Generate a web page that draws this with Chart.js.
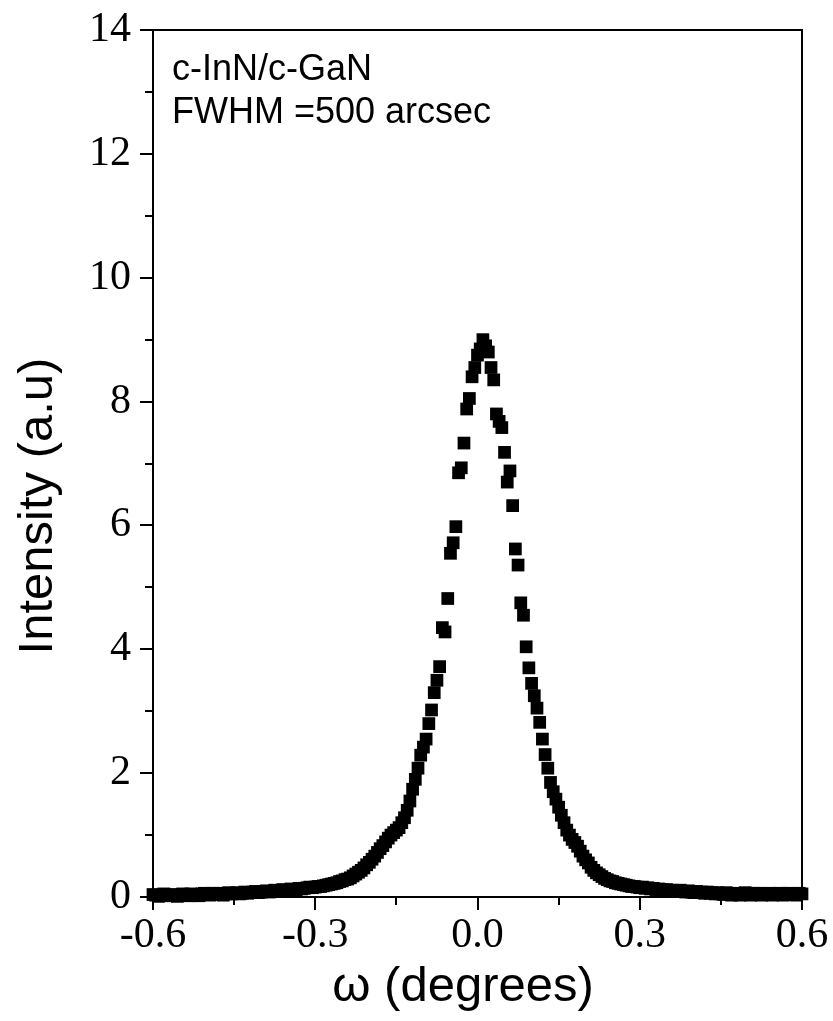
<!DOCTYPE html>
<html>
<head>
<meta charset="utf-8">
<script src="https://cdn.jsdelivr.net/npm/chart.js@4.4.0/dist/chart.umd.min.js"></script>
<style>
  body { margin: 0; background: #fff; }
  #wrap { width: 833px; height: 1021px; position: relative; }
</style>
</head>
<body>
<div id="wrap"><canvas id="rocking_curve"></canvas></div>
<script>

///////////   DATA  /////////////////

const omega = [
  -0.600,-0.595,-0.590,-0.585,-0.580,-0.575,-0.570,-0.565,-0.560,-0.555,
  -0.550,-0.545,-0.540,-0.535,-0.530,-0.525,-0.520,-0.515,-0.510,-0.505,
  -0.500,-0.495,-0.490,-0.485,-0.480,-0.475,-0.470,-0.465,-0.460,-0.455,
  -0.450,-0.445,-0.440,-0.435,-0.430,-0.425,-0.420,-0.415,-0.410,-0.405,
  -0.400,-0.395,-0.390,-0.385,-0.380,-0.375,-0.370,-0.365,-0.360,-0.355,
  -0.350,-0.345,-0.340,-0.335,-0.330,-0.325,-0.320,-0.315,-0.310,-0.305,
  -0.300,-0.295,-0.290,-0.285,-0.280,-0.275,-0.270,-0.265,-0.260,-0.255,
  -0.250,-0.245,-0.240,-0.235,-0.230,-0.225,-0.220,-0.215,-0.210,-0.205,
  -0.200,-0.195,-0.190,-0.185,-0.180,-0.175,-0.170,-0.165,-0.160,-0.155,
  -0.150,-0.145,-0.140,-0.135,-0.130,-0.125,-0.120,-0.115,-0.110,-0.105,
  -0.100,-0.095,-0.090,-0.085,-0.080,-0.075,-0.070,-0.065,-0.060,-0.055,
  -0.050,-0.045,-0.040,-0.035,-0.030,-0.025,-0.020,-0.015,-0.010,-0.005,
   0.000, 0.005, 0.010, 0.015, 0.020, 0.025, 0.030, 0.035, 0.040, 0.045,
   0.050, 0.055, 0.060, 0.065, 0.070, 0.075, 0.080, 0.085, 0.090, 0.095,
   0.100, 0.105, 0.110, 0.115, 0.120, 0.125, 0.130, 0.135, 0.140, 0.145,
   0.150, 0.155, 0.160, 0.165, 0.170, 0.175, 0.180, 0.185, 0.190, 0.195,
   0.200, 0.205, 0.210, 0.215, 0.220, 0.225, 0.230, 0.235, 0.240, 0.245,
   0.250, 0.255, 0.260, 0.265, 0.270, 0.275, 0.280, 0.285, 0.290, 0.295,
   0.300, 0.305, 0.310, 0.315, 0.320, 0.325, 0.330, 0.335, 0.340, 0.345,
   0.350, 0.355, 0.360, 0.365, 0.370, 0.375, 0.380, 0.385, 0.390, 0.395,
   0.400, 0.405, 0.410, 0.415, 0.420, 0.425, 0.430, 0.435, 0.440, 0.445,
   0.450, 0.455, 0.460, 0.465, 0.470, 0.475, 0.480, 0.485, 0.490, 0.495,
   0.500, 0.505, 0.510, 0.515, 0.520, 0.525, 0.530, 0.535, 0.540, 0.545,
   0.550, 0.555, 0.560, 0.565, 0.570, 0.575, 0.580, 0.585, 0.590, 0.595,
   0.600
];

const intensity = [
  0.04,0.03,0.01,0.03,0.05,0.03,0.02,0.04,0.03,0.01,
  0.03,0.05,0.03,0.02,0.05,0.03,0.04,0.02,0.05,0.06,
  0.04,0.03,0.06,0.04,0.05,0.06,0.03,0.05,0.07,0.05,
  0.06,0.07,0.05,0.06,0.08,0.06,0.07,0.08,0.09,0.07,
  0.08,0.09,0.10,0.08,0.09,0.11,0.09,0.10,0.12,0.10,
  0.11,0.13,0.11,0.12,0.14,0.13,0.14,0.15,0.16,0.15,
  0.16,0.17,0.17,0.18,0.19,0.20,0.21,0.22,0.23,0.25,
  0.26,0.28,0.29,0.31,0.34,0.37,0.40,0.43,0.47,0.52,
  0.56,0.61,0.66,0.72,0.78,0.83,0.89,0.95,1.00,1.04,
  1.08,1.12,1.20,1.28,1.40,1.55,1.74,1.90,2.08,2.29,
  2.42,2.55,2.80,3.02,3.30,3.50,3.72,4.35,4.28,4.82,
  5.55,5.72,5.98,6.85,6.93,7.33,7.88,8.05,8.40,8.55,
  8.75,8.85,9.00,8.90,8.80,8.55,8.35,7.80,7.68,7.58,
  7.18,6.70,6.88,6.32,5.62,5.36,4.75,4.55,4.04,3.70,
  3.45,3.25,3.05,2.82,2.55,2.30,2.08,1.85,1.70,1.58,
  1.45,1.32,1.20,1.08,1.00,0.93,0.88,0.82,0.74,0.66,
  0.60,0.55,0.48,0.43,0.39,0.36,0.33,0.30,0.28,0.26,
  0.25,0.23,0.22,0.21,0.20,0.19,0.18,0.17,0.17,0.16,
  0.15,0.16,0.14,0.15,0.13,0.14,0.12,0.13,0.12,0.11,
  0.12,0.10,0.11,0.09,0.10,0.11,0.09,0.08,0.10,0.08,
  0.07,0.09,0.07,0.08,0.06,0.08,0.06,0.07,0.05,0.07,
  0.05,0.04,0.07,0.05,0.03,0.06,0.05,0.03,0.05,0.07,
  0.05,0.03,0.06,0.04,0.06,0.03,0.05,0.04,0.06,0.03,
  0.05,0.04,0.06,0.03,0.04,0.06,0.04,0.05,0.03,0.06,
  0.05
];

const x_ticks = [-0.6, -0.3, 0.0, 0.3, 0.6];
const x_minor = [-0.45, -0.15, 0.15, 0.45];
const y_ticks = [0, 2, 4, 6, 8, 10, 12, 14];
const y_minor = [1, 3, 5, 7, 9, 11, 13];
const note_lines = ["c-InN/c-GaN", "FWHM =500 arcsec"];
const x_title = "ω (degrees)";
const y_title = "Intensity (a.u)";

const sans = "'Liberation Sans', Arial, sans-serif";
const serif = "'Liberation Serif', 'Times New Roman', serif";


///////////   PLUGINS  /////////////////

// box round the plot, short minor ticks, note text and axis titles
const frame_plugin = {
  id: "frame",
  afterDraw(chart) {
    const ctx = chart.ctx;
    const a = chart.chartArea;
    const xs = chart.scales.x;
    const ys = chart.scales.y;
    ctx.save();
    ctx.strokeStyle = "#000";
    ctx.lineWidth = 2;
    ctx.strokeRect(a.left, a.top, a.right - a.left, a.bottom - a.top);
    ctx.beginPath();
    y_minor.forEach(v => {
      const py = Math.round(ys.getPixelForValue(v));
      ctx.moveTo(a.left - 8, py);
      ctx.lineTo(a.left, py);
    });
    x_minor.forEach(v => {
      const px = Math.round(xs.getPixelForValue(v));
      ctx.moveTo(px, a.bottom);
      ctx.lineTo(px, a.bottom + 8);
    });
    ctx.stroke();

    ctx.fillStyle = "#000";
    ctx.textBaseline = "alphabetic";
    ctx.textAlign = "left";
    ctx.font = "36px " + sans;
    ctx.fillText(note_lines[0], a.left + 19, 80);
    ctx.fillText(note_lines[1], a.left + 19, 123);

    ctx.font = "49px " + sans;
    ctx.textAlign = "center";
    ctx.fillText(x_title, 463, 1001);

    ctx.translate(52, 506);
    ctx.rotate(-Math.PI / 2);
    ctx.fillText(y_title, 0, 0);
    ctx.restore();
  }
};


///////////   CHART  /////////////////

new Chart(document.querySelector("#rocking_curve"), {
  type: "scatter",
  data: {
    datasets: [{
      data: omega.map((w, i) => ({ x: w, y: intensity[i] })),
      pointStyle: "rect",
      pointRadius: 9,
      pointHoverRadius: 9,
      backgroundColor: "#000",
      borderColor: "#000",
      borderWidth: 0,
      showLine: false,
      clip: false
    }]
  },
  options: {
    responsive: true,
    maintainAspectRatio: false,
    animation: false,
    layout: { padding: { left: 0, top: 30, right: 31, bottom: 0 } },
    plugins: {
      legend: { display: false },
      tooltip: { enabled: false }
    },
    scales: {
      x: {
        type: "linear",
        min: -0.6,
        max: 0.6,
        afterBuildTicks: s => { s.ticks = x_ticks.map(v => ({ value: v })); },
        afterFit: s => { s.height = 124; s.paddingLeft = 0; s.paddingRight = 0; },
        ticks: {
          color: "#000",
          padding: 5,
          maxRotation: 0,
          font: { family: serif, size: 42, lineHeight: 1 },
          callback: v => v.toFixed(1)
        },
        grid: { drawOnChartArea: false, color: "#000", lineWidth: 2, tickLength: 13 },
        border: { color: "#000", width: 2 }
      },
      y: {
        type: "linear",
        min: 0,
        max: 14,
        afterBuildTicks: s => { s.ticks = y_ticks.map(v => ({ value: v })); },
        afterFit: s => { s.width = 153; s.paddingTop = 0; s.paddingBottom = 0; },
        ticks: {
          color: "#000",
          padding: 9,
          font: { family: serif, size: 42, lineHeight: 1 },
          callback: v => String(v)
        },
        grid: { drawOnChartArea: false, color: "#000", lineWidth: 2, tickLength: 13 },
        border: { color: "#000", width: 2 }
      }
    }
  },
  plugins: [frame_plugin]
});

</script>
</body>
</html>
